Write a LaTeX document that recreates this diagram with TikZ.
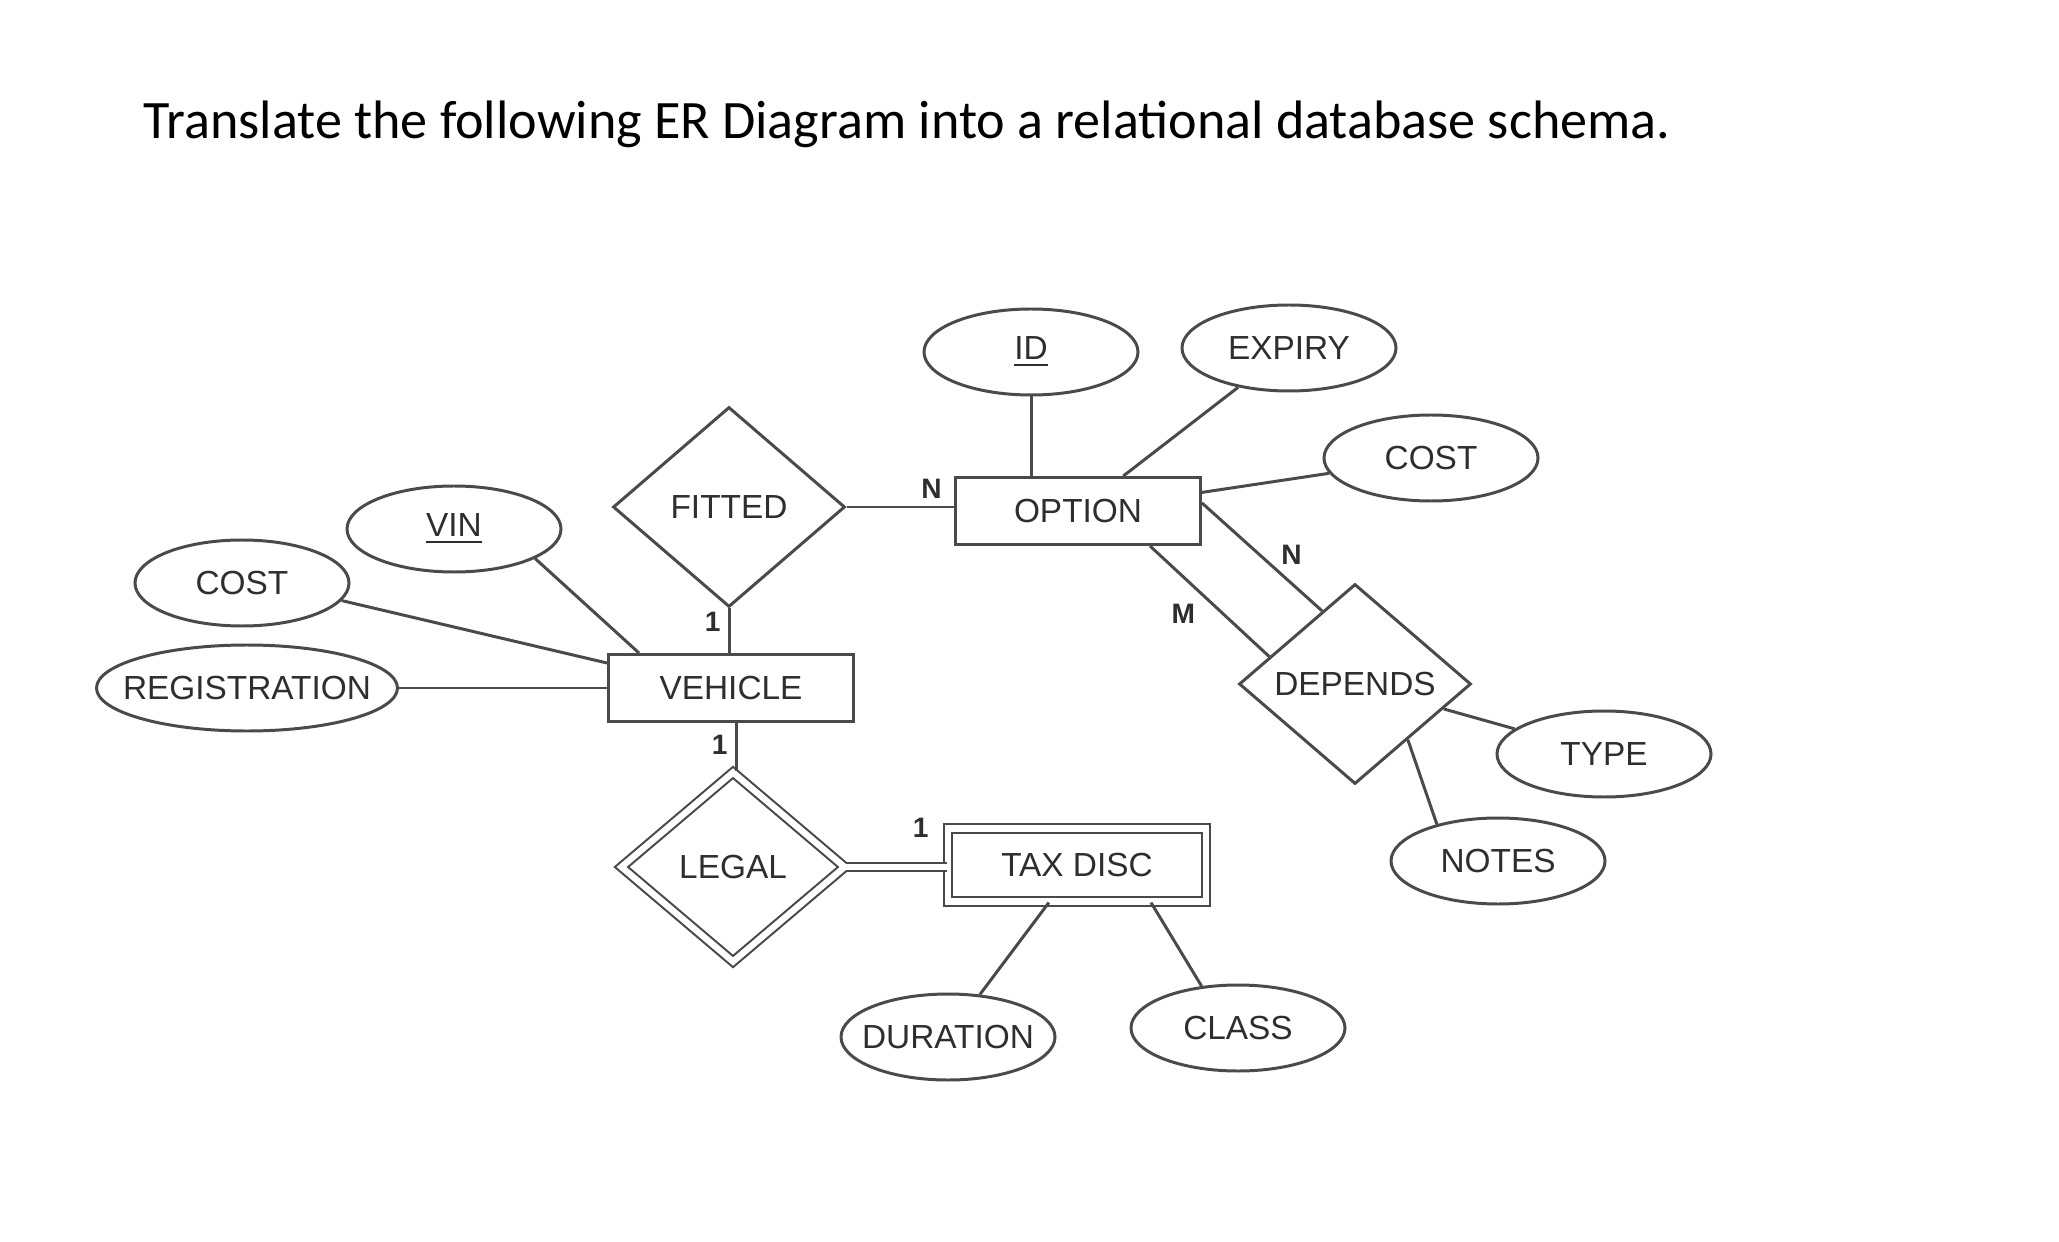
\documentclass[tikz,border=0pt]{standalone}
\usepackage{fontspec}
\setmainfont{Liberation Sans}
\newfontfamily\titlefont{Carlito}
\usepackage{tikz}
\usetikzlibrary{shapes.geometric,calc}
\definecolor{erline}{HTML}{4A4A4A}
\definecolor{ertext}{HTML}{2E2E2E}
\tikzset{
  attr/.style={draw=erline, ellipse, minimum width=2.14cm, minimum height=0.86cm, inner xsep=-0.2cm, inner ysep=0pt, text=ertext},
  ent/.style={draw=erline, minimum width=2.45cm, minimum height=0.67cm, inner sep=0pt, text=ertext},
  weakent/.style={ent, double, double distance=1.8pt, line width=0.6pt, minimum width=2.58cm, minimum height=0.73cm},
  rel/.style={draw=erline, diamond, minimum width=2.32cm, minimum height=2.0cm, inner sep=0pt, text=ertext},
  weakrel/.style={rel, double, double distance=1.8pt, line width=0.6pt, minimum width=2.24cm, minimum height=1.9cm},
  card/.style={font=\fontsize{8}{9}\selectfont\bfseries, text=ertext, inner sep=2pt},
  link/.style={draw=erline, line width=0.85pt},
  weaklink/.style={draw=erline, double, double distance=1.8pt, line width=0.6pt}
}

\begin{document}
\begin{tikzpicture}[every node/.style={font=\fontsize{9.5}{11}\selectfont}, line width=0.85pt]
  \useasboundingbox (0,0) rectangle (20.59,-12.42);

  \node[anchor=base west, inner sep=0pt, font=\titlefont\fontsize{15.4}{18}\selectfont] (title) at (1.42,-1.39)
    {Translate the following ER Diagram into a relational database schema.};

  % entities and relationships
  \node[ent] (vehicle) at (7.31,-6.88) {VEHICLE};
  \node[ent] (option) at (10.78,-5.11) {OPTION};
  \node[weakent] (taxdisc) at (10.77,-8.65) {TAX DISC};
  \node[rel] (fitted) at (7.29,-5.07) {FITTED};
  \node[weakrel] (legal) at (7.33,-8.67) {LEGAL};
  \node[rel] (depends) at (13.55,-6.84) {DEPENDS};

  % attributes
  \node[attr] (id) at (10.31,-3.52) {\underline{ID}};
  \node[attr] (expiry) at (12.89,-3.48) {EXPIRY};
  \node[attr] (ocost) at (14.31,-4.58) {COST};
  \node[attr] (vin) at (4.54,-5.29) {\underline{VIN}};
  \node[attr] (vcost) at (2.42,-5.83) {COST};
  \node[attr, minimum width=3.01cm, inner xsep=-0.25cm] (registration) at (2.47,-6.88) {REGISTRATION};
  \node[attr] (duration) at (9.48,-10.37) {DURATION};
  \node[attr] (class) at (12.38,-10.28) {CLASS};
  \node[attr] (type) at (16.04,-7.54) {TYPE};
  \node[attr] (notes) at (14.98,-8.61) {NOTES};

  % relationship lines
  \draw[link] (fitted.east) -- node[card, pos=0.79, above] {N} (fitted.east -| option.west);
  \draw[link] (fitted.south) -- node[card, pos=0.3, left] {1} (fitted.south |- vehicle.north);
  \draw[link] ([xshift=0.05cm]vehicle.south) -- node[card, pos=0.45, left] {1} ([xshift=0.05cm]vehicle.south |- legal.north);
  \draw[weaklink] (legal.east) -- node[card, pos=0.74, above=6pt] {1} (legal.east -| taxdisc.west);
  \draw[link] ([yshift=0.08cm]option.east) -- node[card, pos=0.62, above right=-1pt] {N} ($(depends.west)!0.72!(depends.north)$);
  \draw[link] ([xshift=0.72cm]option.south) -- node[card, pos=0.45, below left=0pt] {M} ($(depends.west)!0.27!(depends.north)$);

  % attribute lines
  \draw[link] (id) -- (id |- option.north);
  \draw[link] (expiry) -- (option);
  \draw[link] (ocost) -- (option);
  \draw[link] (vin.-20) -- ([xshift=0.32cm]vehicle.north west);
  \draw[link] (vcost.-10) -- ([yshift=-0.1cm]vehicle.north west);
  \draw[link] (registration.east) -- (registration.east -| vehicle.west);
  \draw[link] (taxdisc) -- (duration);
  \draw[link] ([xshift=0.74cm]taxdisc.south) -- (class.131);
  \draw[link] (depends) -- (type);
  \draw[link] ($(depends.east)!0.55!(depends.south)$) -- (notes.149);
\end{tikzpicture}
\end{document}
